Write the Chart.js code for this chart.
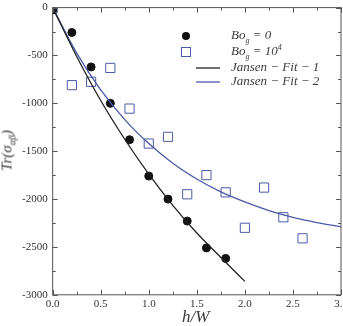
<!DOCTYPE html>
<html>
<head>
<meta charset="utf-8">
<script src="https://cdn.jsdelivr.net/npm/chart.js@4.4.0/dist/chart.umd.min.js"></script>
<style>
  body { margin: 0; background: #fff; overflow: hidden; }
  #wrap { position: relative; width: 360px; height: 326px; }
  #grafico { position: absolute; left: 0; top: -4px; }
  .mat { font-family: "Liberation Serif", "DejaVu Serif", serif; font-style: italic; color: #3a3a3a; position: absolute; white-space: nowrap; }
  #legenda .mat { font-size: 13px; }
  #tituloY { font-size: 15px; width: 80px; text-align: center; left: -32px; top: 141px; transform: rotate(-90deg); }
  #tituloX { font-size: 17px; left: 182px; top: 307px; }
</style>
</head>
<body>
<div id="wrap">
  <canvas id="grafico" width="360" height="330"></canvas>
  <div id="legenda">
    <div class="mat" style="left:231px; top:27px;">Bo<sub style="font-size:8px">g</sub> = 0</div>
    <div class="mat" style="left:231px; top:43px;">Bo<sub style="font-size:8px">g</sub> = 10<sup style="font-size:8px">4</sup></div>
    <div class="mat" style="left:231px; top:59px;">Jansen − Fit − 1</div>
    <div class="mat" style="left:231px; top:73px;">Jansen − Fit − 2</div>
  </div>
  <div class="mat" id="tituloY">Tr(σ<sub style="font-size:10px">αβ</sub>)</div>
  <div class="mat" id="tituloX">h/W</div>
</div>
<script>
// pontos medidos
const xBo0 = [0, 0.2, 0.4, 0.6, 0.8, 1.0, 1.2, 1.4, 1.6, 1.8];
const yBo0 = [-25, -260, -620, -1000, -1380, -1760, -2000, -2230, -2510, -2620];

const xBo4 = [0, 0.2, 0.4, 0.6, 0.8, 1.0, 1.2, 1.4, 1.6, 1.8, 2.0, 2.2, 2.4, 2.6];
const yBo4 = [-5, -810, -775, -630, -1055, -1420, -1350, -1950, -1750, -1930, -2300, -1880, -2190, -2410];

// curvas de ajuste
const xFit1 = [0, 0.25, 0.5, 0.75, 1.0, 1.25, 1.5, 1.75, 2.0];
const yFit1 = [0, -510, -970, -1375, -1740, -2065, -2355, -2610, -2860];

const xFit2 = [0, 0.25, 0.5, 0.75, 1.0, 1.25, 1.5, 1.75, 2.0, 2.25, 2.5, 2.75, 3.0];
const yFit2 = [0, -475, -860, -1170, -1420, -1625, -1790, -1925, -2030, -2120, -2190, -2245, -2290];

const azul = '#4b5aa8';

function pares(xs, ys) {
  return xs.map((x, i) => ({ x: x, y: ys[i] }));
}

// moldura com ticks para dentro nos quatro lados
const moldura = {
  id: 'moldura',
  afterDraw(chart) {
    const { ctx, chartArea: a, scales } = chart;
    ctx.save();
    ctx.strokeStyle = '#555';
    ctx.lineWidth = 1;
    ctx.strokeRect(a.left, a.top, a.right - a.left, a.bottom - a.top);
    ctx.beginPath();
    for (let v = 0; v <= 3.0001; v += 0.25) {
      const px = Math.round(scales.x.getPixelForValue(v)) + 0.5;
      const len = Math.abs(v * 2 - Math.round(v * 2)) < 0.01 ? 5 : 3;
      ctx.moveTo(px, a.bottom); ctx.lineTo(px, a.bottom - len);
      ctx.moveTo(px, a.top); ctx.lineTo(px, a.top + len);
    }
    for (let v = -3000; v <= 0; v += 250) {
      const py = Math.round(scales.y.getPixelForValue(v)) + 0.5;
      const len = v % 500 === 0 ? 5 : 3;
      ctx.moveTo(a.left, py); ctx.lineTo(a.left + len, py);
      ctx.moveTo(a.right, py); ctx.lineTo(a.right - len, py);
    }
    ctx.stroke();
    // marcadores da legenda (canvas deslocado 4px para cima)
    ctx.fillStyle = '#111';
    ctx.beginPath(); ctx.arc(186, 40, 4, 0, Math.PI * 2); ctx.fill();
    ctx.strokeStyle = azul;
    ctx.strokeRect(181.5, 51.5, 9, 9);
    ctx.lineWidth = 1.3;
    ctx.strokeStyle = '#222';
    ctx.beginPath(); ctx.moveTo(196, 72); ctx.lineTo(220, 72); ctx.stroke();
    ctx.strokeStyle = azul;
    ctx.beginPath(); ctx.moveTo(196, 86); ctx.lineTo(220, 86); ctx.stroke();
    ctx.restore();
  }
};

const fonteTicks = { family: '"Liberation Serif", serif', size: 11 };

new Chart(document.getElementById('grafico'), {
  type: 'scatter',
  data: {
    datasets: [
      {
        label: 'Jansen-Fit-1',
        data: pares(xFit1, yFit1),
        showLine: true,
        borderColor: '#222',
        borderWidth: 1.3,
        pointRadius: 0,
        cubicInterpolationMode: 'monotone'
      },
      {
        label: 'Jansen-Fit-2',
        data: pares(xFit2, yFit2),
        showLine: true,
        borderColor: azul,
        borderWidth: 1.3,
        pointRadius: 0,
        cubicInterpolationMode: 'monotone'
      },
      {
        label: 'Bo0',
        data: pares(xBo0, yBo0),
        pointRadius: 4,
        backgroundColor: '#111',
        borderColor: '#111'
      },
      {
        label: 'Bo4',
        data: pares(xBo4, yBo4),
        pointStyle: 'rect',
        pointRadius: 6.5,
        backgroundColor: 'rgba(255,255,255,0)',
        borderColor: azul,
        borderWidth: 1
      }
    ]
  },
  options: {
    responsive: false,
    animation: false,
    layout: { padding: { left: 17, top: 0, right: 19, bottom: 12 } },
    plugins: { legend: { display: false }, tooltip: { enabled: false } },
    scales: {
      x: {
        type: 'linear', min: 0, max: 3,
        grid: { display: false, drawTicks: false },
        border: { display: false },
        ticks: { stepSize: 0.5, font: fonteTicks, color: '#333', padding: 3, maxRotation: 0,
                 callback: v => v.toFixed(1) }
      },
      y: {
        type: 'linear', min: -3000, max: 0,
        grid: { display: false, drawTicks: false },
        border: { display: false },
        ticks: { stepSize: 500, font: fonteTicks, color: '#333', padding: 5,
                 callback: v => String(v) }
      }
    }
  },
  plugins: [moldura]
});
</script>
</body>
</html>
